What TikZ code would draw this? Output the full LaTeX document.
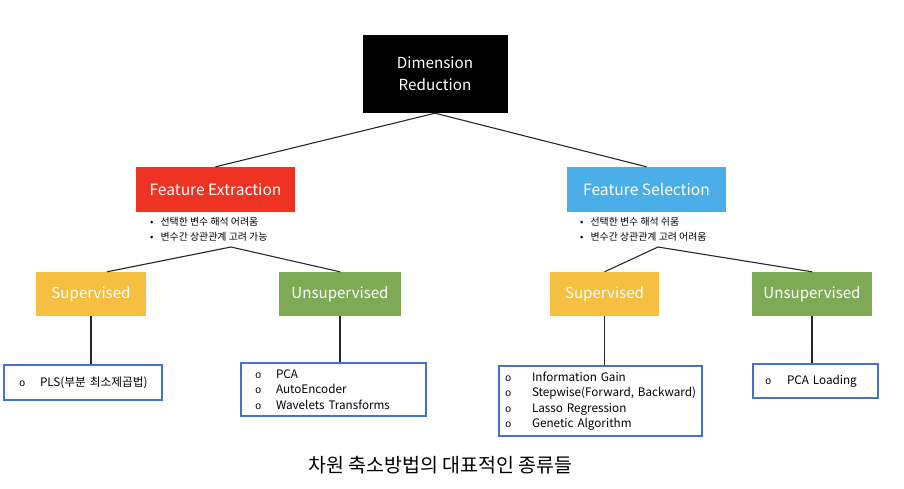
\documentclass[tikz,border=0pt]{standalone}
\usepackage{fontspec}
\setmainfont{Noto Sans CJK KR}
\newfontfamily\bulletfont{Liberation Mono}
\usepackage{xcolor}

\definecolor{fered}{RGB}{238,50,36}
\definecolor{fsblue}{RGB}{76,174,232}
\definecolor{supyellow}{RGB}{245,192,66}
\definecolor{unsgreen}{RGB}{126,170,85}
\definecolor{listblue}{RGB}{68,114,196}
\definecolor{linkgray}{RGB}{40,40,40}

% small "o" bullet of the lists
\newcommand{\lbul}[1]{\makebox[#1][l]{\bulletfont\fontsize{10.5}{10}\selectfont o}}

\begin{document}
\begin{tikzpicture}[x=1pt, y=-1pt,
    title/.style={minimum width=159pt, minimum height=45pt, inner sep=0pt, text=white, font=\fontsize{15.6}{19}\selectfont},
    method/.style={minimum height=44pt, inner sep=0pt, text=white, font=\fontsize{15.1}{19}\selectfont},
    listbox/.style={draw=listblue, line width=1.6pt, fill=white, align=left, inner ysep=0pt, font=\fontsize{11.7}{15.5}\selectfont},
    note/.style={anchor=west, align=left, inner sep=0pt, font=\fontsize{9.9}{15}\selectfont},
    link/.style={draw=linkgray, line width=1.1pt}]

    \useasboundingbox (0,0) rectangle (904,488);

    % Top box
    \node[fill=black, text=white, minimum width=145pt, minimum height=78pt, align=center,
          font=\fontsize{15.2}{22}\selectfont] (dimred) at (435,74) {Dimension\\Reduction};

    % Second level
    \node[title, fill=fered] (fe) at (215.5,189.5) {Feature Extraction};
    \node[title, fill=fsblue] (fs) at (646.5,189.5) {Feature Selection};

    \node[note] (fenote) at (150,229.5) {\textbullet\hspace{7pt}선택한 변수 해석 어려움\\\textbullet\hspace{7pt}변수간 상관관계 고려 가능};
    \node[note] (fsnote) at (580,229.5) {\textbullet\hspace{7pt}선택한 변수 해석 쉬움\\\textbullet\hspace{7pt}변수간 상관관계 고려 어려움};

    \coordinate (fesplit) at (231,247);
    \coordinate (fssplit) at (658,247);

    % Third level
    \node[method, fill=supyellow, minimum width=110pt] (supL) at (91,294) {Supervised};
    \node[method, fill=unsgreen, minimum width=122pt] (unsL) at (340,294) {Unsupervised};
    \node[method, fill=supyellow, minimum width=109pt] (supR) at (604.5,294) {Supervised};
    \node[method, fill=unsgreen, minimum width=120pt] (unsR) at (812,294) {Unsupervised};

    % Method lists
    \node[listbox, minimum height=35pt, text width=128pt, inner xsep=15pt] (plsbox) at (83,382.5)
        {\lbul{21pt}\mbox{PLS(부분 최소제곱법)}};
    \node[listbox, minimum height=53pt, text width=157pt, inner xsep=14pt] (pcabox) at (333.5,389.5)
        {\lbul{21pt}PCA\\\lbul{21pt}AutoEncoder\\\lbul{21pt}Wavelets Transforms};
    \node[listbox, minimum height=70pt, text width=191pt, inner xsep=6pt] (igbox) at (600.5,401)
        {\lbul{27pt}Information Gain\\\lbul{27pt}\mbox{Stepwise(Forward, Backward)}\\\lbul{27pt}Lasso Regression\\\lbul{27pt}Genetic Algorithm};
    \node[listbox, minimum height=34pt, text width=101pt, inner xsep=12pt] (ldbox) at (815.5,381)
        {\lbul{22pt}PCA Loading};

    % Connectors
    \draw[link] (dimred.south) -- (fe.north);
    \draw[link] (dimred.south) -- (fs.north);
    \draw[link] (fesplit) -- ([xshift=16pt]supL.north);
    \draw[link] (fesplit) -- (unsL.north);
    \draw[link] (fssplit) -- (supR.north);
    \draw[link] (fssplit) -- (unsR.north);
    \draw[link] (supL.south) -- (supL.south |- plsbox.north);
    \draw[link] (unsL.south) -- (unsL.south |- pcabox.north);
    \draw[link] (supR.south) -- (supR.south |- igbox.north);
    \draw[link] (unsR.south) -- (unsR.south |- ldbox.north);

    % Caption
    \node[font=\fontsize{19.5}{22}\selectfont] (caption) at (440.5,465) {차원 축소방법의 대표적인 종류들};

\end{tikzpicture}
\end{document}
